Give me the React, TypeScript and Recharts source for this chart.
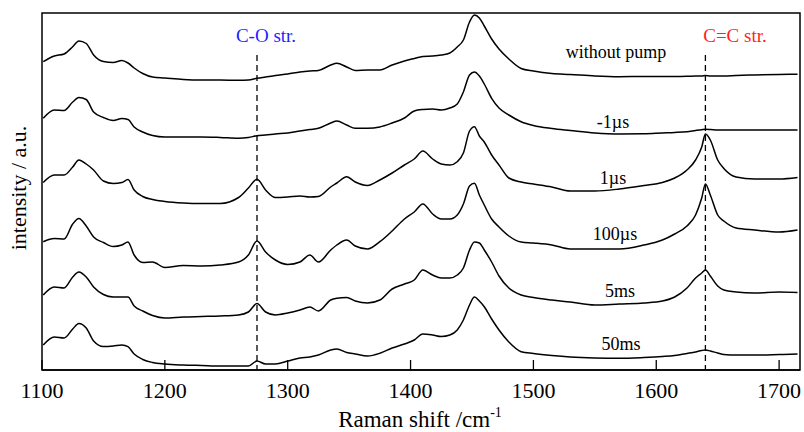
import { LineChart, Line, XAxis, YAxis, ReferenceLine, ReferenceArea, Label } from 'recharts';

// Raman shift grid (cm-1)
const shift = [
  1101, 1110, 1118, 1125, 1130, 1136, 1142, 1150, 1158, 1165,
  1170, 1175, 1182, 1190, 1200, 1215, 1230, 1245, 1260, 1268,
  1275, 1282, 1290, 1300, 1310, 1318, 1325, 1335, 1340, 1348,
  1355, 1365, 1375, 1385, 1395, 1403, 1410, 1418, 1425, 1432,
  1438, 1443, 1448, 1452, 1456, 1460, 1466, 1472, 1480, 1490,
  1500, 1515, 1530, 1550, 1570, 1590, 1605, 1615, 1625, 1632,
  1637, 1640, 1644, 1650, 1655, 1665, 1680, 1700, 1715,
];

// stacked spectra (offset intensity, a.u.)
const withoutPump = [
  308.3, 314, 316, 323.3, 329, 326.5, 315, 308.5, 307.5, 309.5,
  307, 302, 296.5, 293, 292, 290.5, 290, 290, 289.7, 290,
  291.7, 293, 294.5, 296, 298, 299, 299.5, 305, 306.7, 303,
  299.5, 300, 300, 305, 309, 311.5, 313.5, 314, 315, 317,
  323, 330, 348, 355, 352, 344, 331, 321, 311, 301.5,
  299, 296.5, 295.5, 294, 293.3, 293.5, 293.5, 293.5, 293.7, 294,
  294, 294.5, 294, 294, 294, 294.5, 295, 295.5, 295.7,
];
const minus1us = [
  251.7, 260, 259.5, 268, 272.5, 270.5, 258, 252.5, 249.5, 251.5,
  250.5, 243, 238, 234.5, 233, 233, 233, 232.5, 231.7, 232.5,
  234.3, 235, 236, 237, 239, 240.5, 241.7, 247, 249, 245,
  241.7, 241.7, 243, 247, 252, 259, 260.5, 261, 260, 262,
  266, 278, 295, 298, 294, 286, 271.7, 262, 255, 248.3,
  244.5, 241.5, 239.5, 237, 236, 236.2, 237, 237.5, 238.3, 239.5,
  240.3, 240.7, 240.5, 240, 240, 240, 240, 240, 240,
];
const plus1us = [
  187.5, 195, 195, 203, 210, 206, 200, 189, 186.5, 187.5,
  190.5, 180, 173.5, 170.5, 168.5, 167, 166.5, 166.5, 172.5, 182,
  190.7, 180, 172.5, 173, 174, 173, 173.5, 183, 187, 193.3,
  188, 184.5, 190, 197, 205, 211, 219, 211, 206, 205,
  208.3, 217, 239, 243.3, 234, 228, 215, 205, 192, 188,
  186, 183, 179, 179, 181, 184.5, 187.5, 192, 200, 210,
  223, 236, 230, 210, 201.5, 193, 191, 191, 192.5,
];
const plus100us = [
  128.3, 131.5, 131, 146, 151.5, 144, 133, 127.5, 123.5, 125,
  128, 115, 107.5, 108, 102.5, 104.5, 104, 105, 108, 115,
  129, 118, 110, 105.5, 108, 115, 108, 120, 125, 130,
  124, 121, 128.3, 139, 151, 158, 166, 156, 151, 151,
  155, 166, 184, 186.7, 175, 165, 151, 143, 134, 128,
  127, 125, 121, 121, 121, 125, 130, 136, 144, 155,
  172, 186, 175, 155, 149, 142, 140, 138, 140,
];
const plus5ms = [
  75, 83, 82, 93, 98, 93, 83, 75.5, 73, 73,
  73, 64, 59, 54.5, 52, 53, 53.5, 54, 55, 58,
  66.5, 58, 55, 57, 60, 63, 59, 70, 71.7, 72.5,
  69, 67, 70, 81, 86, 90, 100, 95, 92, 92,
  95, 102, 120, 128, 127, 120, 108, 94, 82, 75,
  72.5, 70, 68, 65, 66, 67, 69, 73, 82, 92,
  97, 100, 94, 84, 80, 78, 77, 78, 77.5,
];
const plus50ms = [
  25, 33, 32, 41, 46.5, 42, 29, 23.5, 24, 25,
  23.3, 16, 10.5, 7.5, 6, 5, 4.5, 4, 4, 4,
  9, 6, 6, 9, 12, 13, 15, 20, 21, 17.5,
  16, 14, 16.7, 22, 26, 30, 36, 35, 33.5, 35,
  40, 50, 65, 73, 69, 63.3, 51, 40, 28, 18.3,
  16.5, 14.5, 13, 12, 11.7, 12.5, 13.5, 14.5, 16.5, 18,
  19.5, 20, 19, 17, 15.5, 15, 15, 15.5, 16,
];

const seriesKeys = ['wp', 'm1us', 'p1us', 'p100us', 'p5ms', 'p50ms'];
const seriesNames = ['without pump', '-1\u00b5s', '1\u00b5s', '100\u00b5s', '5ms', '50ms'];
const xTicks = [1100, 1200, 1300, 1400, 1500, 1600, 1700];
const bandShifts = [1275, 1640];
const bandNames = ['C-O str.', 'C=C str.'];

const data = shift.map((s, i) => ({
  shift: s,
  wp: withoutPump[i],
  m1us: minus1us[i],
  p1us: plus1us[i],
  p100us: plus100us[i],
  p5ms: plus5ms[i],
  p50ms: plus50ms[i],
}));

const FONT = 'Liberation Serif, Times New Roman, Times, serif';
const serif = { fontFamily: FONT };

// label placement (px) for each trace
const traceLabelPos = [
  { x: 616, y: 58 },
  { x: 613, y: 128 },
  { x: 613, y: 184 },
  { x: 615, y: 240 },
  { x: 620, y: 297 },
  { x: 621, y: 350 },
];

const XTick = (props: any) => {
  const { x, y, payload } = props;
  return (
    <g>
      <line x1={x} x2={x} y1={y - 10} y2={y} stroke="#000" strokeWidth={1.3} />
      <text x={x} y={y + 28} textAnchor="middle" fontSize={22} style={serif} fill="#000">
        {payload.value}
      </text>
    </g>
  );
};

export default function App() {
  return (
    <div style={{ position: 'absolute', left: 0, top: 0, width: 804, height: 432, background: '#fff' }}>
      <LineChart width={804} height={432} data={data} margin={{ top: 13, right: 4, bottom: 32, left: 42 }}>
        <XAxis
          dataKey="shift"
          type="number"
          domain={[1100, 1717]}
          ticks={xTicks}
          allowDataOverflow
          height={30}
          tickSize={0}
          tickMargin={0}
          tickLine={false}
          tick={<XTick />}
          axisLine={{ stroke: '#000', strokeWidth: 1.5 }}
        >
          <Label
            content={() => (
              <text x={420} y={427} textAnchor="middle" fontSize={23} style={serif} fill="#000">
                Raman shift /cm
                <tspan dy={-10} fontSize={14}>-1</tspan>
              </text>
            )}
          />
        </XAxis>
        <YAxis hide domain={[0, 357]} allowDataOverflow />
        <ReferenceArea
          x1={1100}
          x2={1717}
          y1={0}
          y2={357}
          fill="none"
          fillOpacity={0}
          stroke="#000"
          strokeWidth={1.5}
        />
        {bandShifts.map((b) => (
          <ReferenceLine
            key={b}
            segment={[{ x: b, y: 315 }, { x: b, y: 0 }]}
            stroke="#000"
            strokeWidth={1.3}
            strokeDasharray="6 4"
          />
        ))}
        {seriesKeys.map((k) => (
          <Line
            key={k}
            dataKey={k}
            type="monotone"
            stroke="#000"
            strokeWidth={1.5}
            dot={false}
            isAnimationActive={false}
          />
        ))}
        <text
          x={26}
          y={188}
          transform="rotate(-90 26 188)"
          textAnchor="middle"
          fontSize={22}
          style={serif}
          fill="#000"
        >
          intensity / a.u.
        </text>
        {seriesNames.map((n, i) => (
          <text
            key={n}
            x={traceLabelPos[i].x}
            y={traceLabelPos[i].y}
            textAnchor="middle"
            fontSize={18}
            style={serif}
            fill="#000"
          >
            {n}
          </text>
        ))}
        <text x={266} y={42} textAnchor="middle" fontSize={19} style={serif} fill="#1f1fff">
          {bandNames[0]}
        </text>
        <text x={735} y={42} textAnchor="middle" fontSize={19} style={serif} fill="#ff1f1f">
          {bandNames[1]}
        </text>
      </LineChart>
    </div>
  );
}
